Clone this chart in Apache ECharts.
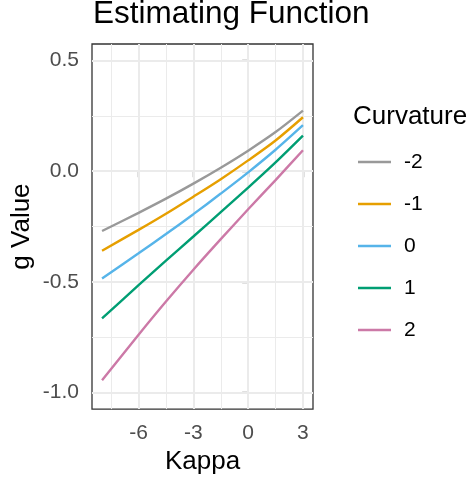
<!DOCTYPE html>
<html>
<head>
<meta charset="utf-8">
<script src="https://cdn.jsdelivr.net/npm/echarts@6/dist/echarts.min.js"></script>
<style>
  html, body { margin: 0; padding: 0; background: #fff; }
  #chart { width: 472px; height: 480px; }
</style>
</head>
<body>
<div id="chart"></div>
<script>
// Estimating function g(kappa) for several curvature settings
const kappa = [-8, -6, -4.5, -3, -1.5, 0, 1.5, 3];
const curvatureLevels = ['-2', '-1', '0', '1', '2'];
const gCurvNeg2 = [-0.270, -0.188, -0.124, -0.056, 0.016, 0.093, 0.177, 0.274];
const gCurvNeg1 = [-0.359, -0.265, -0.192, -0.115, -0.036, 0.049, 0.139, 0.244];
const gCurv0    = [-0.485, -0.371, -0.284, -0.194, -0.101, -0.005, 0.097, 0.208];
const gCurv1    = [-0.665, -0.515, -0.404, -0.295, -0.185, -0.074, 0.040, 0.161];
const gCurv2    = [-0.945, -0.739, -0.589, -0.445, -0.307, -0.172, -0.040, 0.095];
const lineColors = ['#999999', '#E69F00', '#56B4E9', '#009E73', '#CC79A7'];

// axis breaks
const xTicks = [-6, -3, 0, 3];
const xMinorGrid = [-7.5, -4.5, -1.5, 1.5];
const yTicks = [-1.0, -0.5, 0.0, 0.5];
const yMinorGrid = [-0.75, -0.25, 0.25];

const FONT = 'Liberation Sans, Arial, Helvetica, sans-serif';
const gValues = [gCurvNeg2, gCurvNeg1, gCurv0, gCurv1, gCurv2];

const gridLine = (axis, vals, width) => ({
  type: 'line',
  data: [],
  silent: true,
  z: 1,
  markLine: {
    silent: true,
    symbol: ['none', 'none'],
    label: { show: false },
    emphasis: { disabled: true },
    animation: false,
    lineStyle: { color: '#EBEBEB', type: 'solid', width: width },
    data: vals.map(v => ({ [axis]: v }))
  }
});

const dataSeries = curvatureLevels.map((name, i) => ({
  name: name,
  type: 'line',
  smooth: 0.3,
  showSymbol: false,
  symbol: 'none',
  z: 5,
  lineStyle: { color: lineColors[i], width: 2.4 },
  itemStyle: { color: lineColors[i] },
  data: kappa.map((k, j) => [k, gValues[i][j]])
}));

const chart = echarts.init(document.getElementById('chart'), null, { renderer: 'canvas' });
chart.setOption({
  animation: false,
  backgroundColor: '#ffffff',
  title: [
    {
      text: 'Estimating Function',
      left: 93, top: -2, padding: 0,
      textStyle: { fontFamily: FONT, fontSize: 31.5, fontWeight: 'normal', color: '#000' }
    },
    {
      text: 'Curvature',
      left: 353, top: 104, padding: 0,
      textStyle: { fontFamily: FONT, fontSize: 26, fontWeight: 'normal', color: '#000' }
    }
  ],
  legend: {
    orient: 'vertical',
    left: 358, top: 151,
    padding: 0,
    itemGap: 20,
    itemWidth: 33,
    itemHeight: 2.4,
    icon: 'rect',
    selectedMode: false,
    data: curvatureLevels,
    textStyle: { fontFamily: FONT, fontSize: 21, color: '#000', lineHeight: 22, padding: [0, 0, 0, 8] }
  },
  grid: {
    left: 92, right: 159, top: 44, bottom: 70,
    show: true,
    borderColor: '#333333',
    borderWidth: 1.3,
    backgroundColor: '#ffffff'
  },
  xAxis: {
    type: 'value',
    min: -8.55, max: 3.55,
    name: 'Kappa',
    nameLocation: 'middle',
    nameGap: 37,
    nameTextStyle: { fontFamily: FONT, fontSize: 26, color: '#000' },
    axisLine: { show: false },
    splitLine: { show: false },
    axisTick: { show: true, length: 6, lineStyle: { color: '#333333', width: 1.3 }, customValues: xTicks },
    axisLabel: {
      fontFamily: FONT, fontSize: 21, color: '#4D4D4D', margin: 14,
      customValues: xTicks,
      formatter: v => String(v)
    }
  },
  yAxis: {
    type: 'value',
    min: -1.075, max: 0.575,
    name: 'g Value',
    nameLocation: 'middle',
    nameGap: 57,
    nameTextStyle: { fontFamily: FONT, fontSize: 26, color: '#000' },
    axisLine: { show: false },
    splitLine: { show: false },
    axisTick: { show: true, length: 6, lineStyle: { color: '#333333', width: 1.3 }, customValues: yTicks },
    axisLabel: {
      fontFamily: FONT, fontSize: 21, color: '#4D4D4D', margin: 13,
      customValues: yTicks,
      formatter: v => v.toFixed(1)
    }
  },
  series: [
    gridLine('xAxis', xMinorGrid, 1),
    gridLine('yAxis', yMinorGrid, 1),
    gridLine('xAxis', xTicks, 2),
    gridLine('yAxis', yTicks, 2)
  ].concat(dataSeries)
});
</script>
</body>
</html>
